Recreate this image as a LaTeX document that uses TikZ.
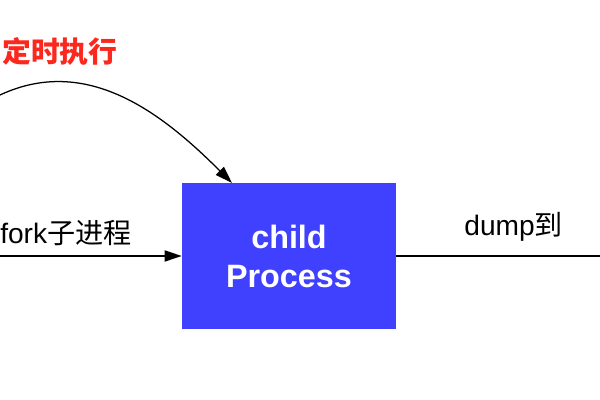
\documentclass[tikz,border=0pt]{standalone}
\usepackage{fontspec}
\setmainfont{Liberation Sans}
\newfontfamily\cjk{Noto Sans CJK SC}
\usetikzlibrary{arrows.meta}
\definecolor{procblue}{RGB}{64,64,255}
\definecolor{timerred}{RGB}{252,40,30}

\begin{document}
\begin{tikzpicture}
        \useasboundingbox (0, 0) rectangle (15, 10);
        \tikzset{flow/.style={line width=0.9pt, -{Triangle[length=4.3mm, width=2.8mm]}},
                 lbl/.style={font=\fontsize{20}{24}\selectfont, inner sep=0pt}}
        \node[fill=procblue, minimum width=5.35cm, minimum height=3.65cm, text=white,
              align=center, font=\bfseries\fontsize{23}{27.7}\selectfont] (child) at (7.225, 3.6) {child\\Process};
        \coordinate (forkstart) at (0, 3.6);
        \coordinate (dumpend) at (15, 3.6);
        \coordinate (timerstart) at (0, 7.625);
        \coordinate (timerend) at (5.8, 5.425);
        \draw[flow] (forkstart) -- (child.west);
        \draw[line width=0.9pt] (child.east) -- (dumpend);
        \draw[flow] (timerstart) to[out=25, in=135] (timerend);
        \node[lbl, anchor=base west] (forklbl) at (0, 3.9) {fork{\cjk 子进程}};
        \node[lbl, anchor=base] (dumplbl) at (12.84, 4.1) {dump{\cjk 到}};
        \node[lbl, text=timerred, font=\cjk\bfseries\fontsize{20.5}{24}\selectfont] (timerlbl) at (1.5, 8.71) {定时执行};
    \end{tikzpicture}
\end{document}
